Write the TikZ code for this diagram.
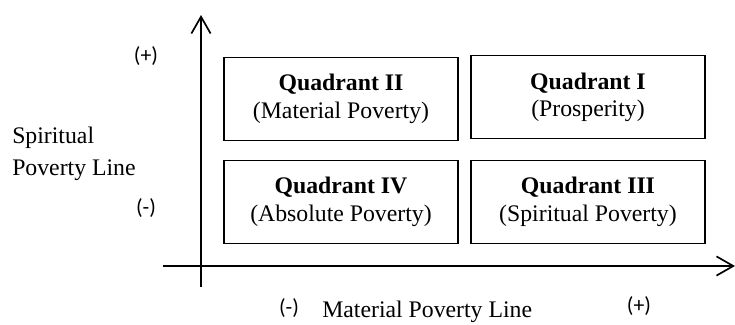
\documentclass[tikz,border=0pt]{standalone}
\usepackage{fontspec}
\setmainfont{Liberation Serif}
\newfontfamily\signfont{Carlito}
\usepackage{tikz}
\usetikzlibrary{
    arrows.meta,
    positioning
}
\tikzset{
  quad/.style   = {draw, line width=0.9pt, minimum width=5.85cm,
                   minimum height=2.08cm, inner sep=0pt, align=center,
                   font=\fontsize{16.9}{19.6}\selectfont},
  sign/.style   = {font=\signfont\fontsize{15.5}{17}\selectfont, inner sep=0pt},
  axis/.style   = {line width=1.5pt,
                   -{Straight Barb[length=0.42cm, width=0.48cm, line width=1.2pt]}}
}

\begin{document}
\begin{tikzpicture}
    \useasboundingbox (-5.025,-1.45) rectangle (13.35,6.65);
    % axes
    \coordinate (ybot) at (0,-0.525);
    \coordinate (ytop) at (0,6.275);
    \coordinate (xlft) at (-0.95,0);
    \coordinate (xrgt) at (13.35,0);
    \draw[axis](ybot)--(ytop);
    \draw[axis](xlft)--(xrgt);
    % quadrants
    \node[quad](q2) at (3.5,4.18)  {\textbf{Quadrant II}\\(Material Poverty)};
    \node[quad](q1) at (9.675,4.22){\textbf{Quadrant I}\\(Prosperity)};
    \node[quad](q4) at (3.5,1.6)   {\textbf{Quadrant IV}\\(Absolute Poverty)};
    \node[quad](q3) at (9.675,1.6) {\textbf{Quadrant III}\\(Spiritual Poverty)};
    % labels
    \node[anchor=west, align=left, inner sep=0pt,
          font=\fontsize{16.9}{22.8}\selectfont](spl) at (-4.725,2.81)
          {Spiritual\\Poverty Line};
    \node[anchor=base west, inner sep=0pt,
          font=\fontsize{16.9}{20}\selectfont](mpl) at (3.025,-1.29)
          {Material Poverty Line};
    \node[sign](yplus)  at (-1.375,5.25) {(+)};
    \node[sign](yminus) at (-1.375,1.45) {(-)};
    \node[sign](xminus) at (2.2,-1.05)   {(-)};
    \node[sign](xplus)  at (10.95,-1.0)  {(+)};
\end{tikzpicture}
\end{document}
